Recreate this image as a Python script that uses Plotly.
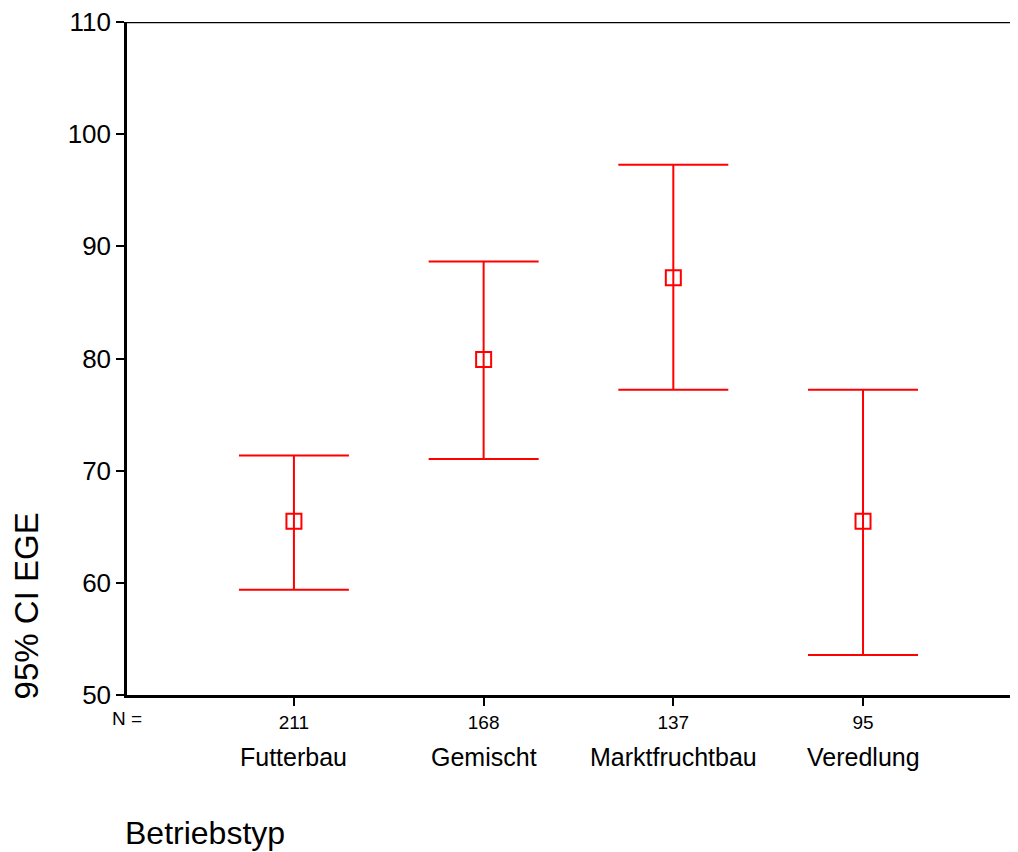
import plotly.graph_objects as go

categories = ["Futterbau", "Gemischt", "Marktfruchtbau", "Veredlung"]
n_labels = ["211", "168", "137", "95"]
means = [65.5, 79.9, 87.2, 65.5]
upper = [71.35, 88.65, 97.28, 77.21]
lower = [59.39, 71.05, 77.21, 53.57]
y_ticks = [50, 60, 70, 80, 90, 100, 110]

xpos = list(range(len(categories)))
err_plus = [u - m for u, m in zip(upper, means)]
err_minus = [m - l for m, l in zip(means, lower)]

FONT = "Liberation Sans, Arial, sans-serif"
RED = "#FF0000"

fig = go.Figure()
fig.add_trace(go.Scatter(
    x=xpos, y=means, mode="markers",
    marker=dict(symbol="square-open", size=15, color=RED, line=dict(width=2, color=RED)),
    error_y=dict(type="data", symmetric=False, array=err_plus, arrayminus=err_minus,
                 color=RED, thickness=2, width=55),
    showlegend=False, hoverinfo="skip",
))

fig.update_layout(
    width=1010, height=844,
    margin=dict(l=119, r=0, t=14, b=157),
    paper_bgcolor="white", plot_bgcolor="white",
    font=dict(family=FONT, color="black"),
    xaxis=dict(
        range=[-0.88, 3.817], tickvals=xpos, ticktext=n_labels,
        showline=True, linecolor="black", linewidth=2.5,
        ticks="outside", ticklen=8, tickwidth=2, tickcolor="black",
        tickfont=dict(size=19, family=FONT), showgrid=False, zeroline=False,
        ticklabeloverflow="allow",
    ),
    yaxis=dict(
        range=[50, 110], tickvals=y_ticks,
        showline=True, linecolor="black", linewidth=2.5,
        ticks="outside", ticklen=8, tickwidth=2, tickcolor="black",
        tickfont=dict(size=26, family=FONT), showgrid=False, zeroline=False,
        ticklabeloverflow="allow",
    ),
)

# top border line
fig.add_shape(type="line", xref="paper", yref="y", x0=0, x1=1, y0=110, y1=110,
              line=dict(color="black", width=2.5))

# category labels
for xp, c in zip(xpos, categories):
    fig.add_annotation(x=xp, xref="x", y=0, yref="paper", yanchor="middle",
                       yshift=-62, text=c, showarrow=False,
                       font=dict(size=25, family=FONT, color="black"))

fig.add_annotation(x=0, xref="paper", y=0, yref="paper", yanchor="middle", xanchor="center",
                   yshift=-23, text="N =", showarrow=False,
                   font=dict(size=19, family=FONT, color="black"))

fig.add_annotation(x=0, xref="paper", y=0, yref="paper", xanchor="left", yanchor="middle",
                   xshift=-3, yshift=-138, text="Betriebstyp", showarrow=False, borderpad=0,
                   font=dict(size=32, family=FONT, color="black"))

fig.add_annotation(x=0, xref="paper", y=57.9, yref="y", xanchor="center", yanchor="middle",
                   xshift=-101, text="95% CI EGE", textangle=-90, showarrow=False,
                   font=dict(size=33, family=FONT, color="black"))

fig.write_html("out.html")
